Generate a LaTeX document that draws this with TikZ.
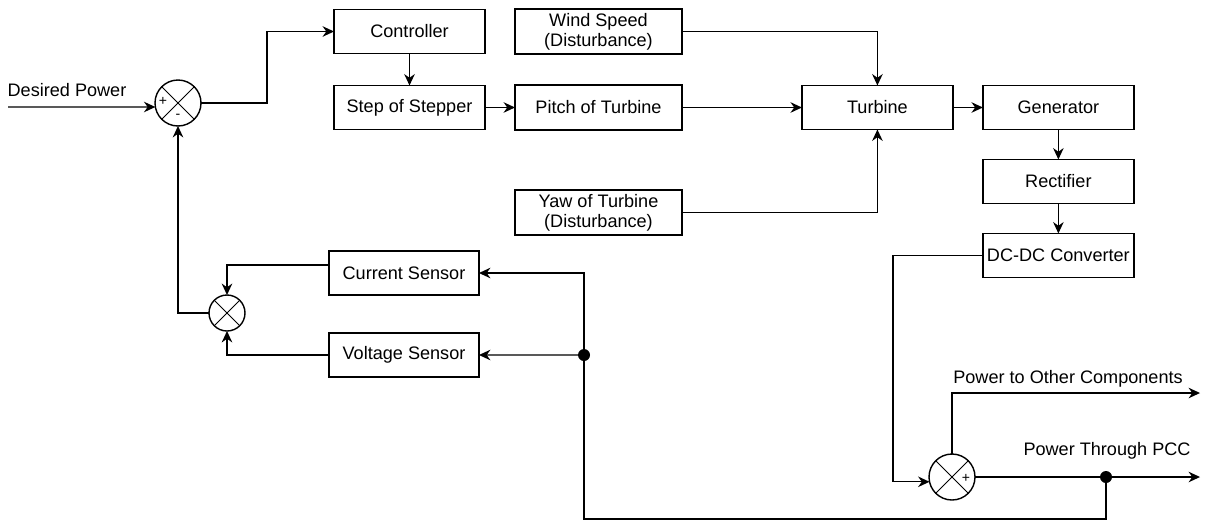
\documentclass[tikz,border=0pt]{standalone}
\usepackage{fontspec}
\setmainfont{Liberation Sans}
\usetikzlibrary{positioning,arrows.meta,calc}

\begin{document}
\begin{tikzpicture}[
    x=0.02cm, y=-0.02cm,
    node distance=0.6cm and 0.6cm,
    font=\fontsize{10.3}{11.5}\selectfont,
    block/.style={draw, align=center, minimum width=3.02cm, minimum height=0.88cm, inner sep=1pt, outer sep=0pt, line width=0.8pt},
    wideblock/.style={block, minimum width=3.34cm, minimum height=0.9cm},
    sumnode/.style={circle, draw, minimum size=0.92cm, inner sep=0pt, outer sep=0pt, line width=0.8pt,
        path picture={\draw[line width=0.5pt] (path picture bounding box.north west) -- (path picture bounding box.south east)
            (path picture bounding box.north east) -- (path picture bounding box.south west);}},
    junction/.style={circle, fill=black, minimum size=0.24cm, inner sep=0pt},
    sign/.style={inner sep=0pt, font=\fontsize{8}{8}\selectfont},
    arrow/.style={-{Stealth[length=6.5pt, width=6pt]}, line width=0.8pt}
]
\useasboundingbox (0,0) rectangle (1206,522);

% forward path
\node[block] (ctrl) at (409.5,31.5) {Controller};
\node[block, below=0.64cm of ctrl] (step) {Step of Stepper};
\node[wideblock, right=0.6cm of step] (pitch) {Pitch of Turbine};
\node[wideblock, above=0.62cm of pitch] (wind) {Wind Speed\\(Disturbance)};
\node[wideblock, below=1.2cm of pitch] (yaw) {Yaw of Turbine\\(Disturbance)};
\node[block, right=2.4cm of pitch] (turb) {Turbine};
\node[block, right=0.6cm of turb] (gen) {Generator};
\node[block, below=0.6cm of gen] (rect) {Rectifier};
\node[block, below=0.6cm of rect] (dcdc) {DC-DC Converter};

% sensors
\node[block, minimum width=3.0cm] (cur) at (404,273) {Current Sensor};
\node[block, minimum width=3.0cm, below=0.76cm of cur] (volt) {Voltage Sensor};

% summing points and junctions
\node[sumnode] (sum1) at (178,103) {};
\node[sumnode, minimum size=0.72cm] (sum2) at (227,313) {};
\node[sumnode] (sum3) at (952,477) {};
\node[junction] (dot1) at (584,355) {};
\node[junction] (dot2) at (1106,477) {};
\node[sign] (plus1) at (163,101) {+};
\node[sign] (minus1) at (178,116) {-};
\node[sign] (plus3) at (966,478) {+};

\coordinate (dpin) at (8,107);
\coordinate (otherout) at (1200,393);
\coordinate (pccout) at (1200,477);
\node[inner sep=0pt] (dplbl) at (67,90) {Desired Power};
\node[inner sep=0pt] (otherlbl) at (1068,379) {Power to Other Components};
\node[inner sep=0pt] (pcclbl) at (1107,451) {Power Through PCC};

\draw[arrow] (dpin) -- (sum1.190);
\draw[arrow] (sum1.east) -- ++(66,0) |- (ctrl.west);
\draw[arrow] (ctrl) -- (step);
\draw[arrow] (step) -- (pitch);
\draw[arrow] (pitch) -- (turb);
\draw[arrow] (wind.east) -| (turb.north);
\draw[arrow] (yaw.east) -| (turb.south);
\draw[arrow] (turb) -- (gen);
\draw[arrow] (gen) -- (rect);
\draw[arrow] (rect) -- (dcdc);
\draw[arrow] (dcdc.west) -- ++(-90,0) |- (sum3.192);
\draw[arrow] (sum3.north) |- (otherout);
\draw[arrow] (sum3.east) -- (pccout);

% feedback
\draw[arrow] (dot2.center) -- ++(0,42) -| (dot1.center) |- (cur.east);
\draw[arrow] (dot1.center) -- (volt.east);
\draw[arrow] ([yshift=0.16cm]cur.west) -| (sum2.north);
\draw[arrow] (volt.west) -| (sum2.south);
\draw[arrow] (sum2.west) -| (sum1.south);

\end{tikzpicture}
\end{document}
